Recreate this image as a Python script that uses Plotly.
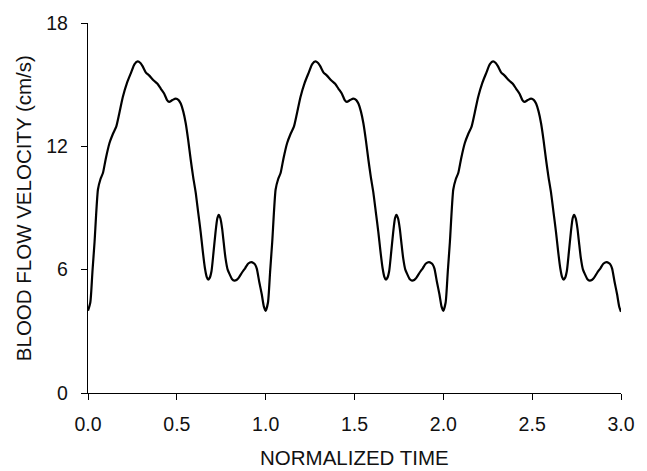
import plotly.graph_objects as go

# One cardiac cycle (normalized time 0..1)
cycle_time = [0.000, 0.013, 0.025, 0.037, 0.056, 0.070, 0.084, 0.100, 0.121, 0.140,
              0.159, 0.176, 0.196, 0.220, 0.243, 0.262, 0.280, 0.295, 0.307, 0.325,
              0.345, 0.370, 0.391, 0.410, 0.429, 0.445, 0.457, 0.475, 0.494, 0.510,
              0.522, 0.536, 0.550, 0.564, 0.578, 0.592, 0.606, 0.620, 0.634, 0.646,
              0.658, 0.668, 0.676, 0.685, 0.695, 0.706, 0.718, 0.728, 0.736, 0.745,
              0.755, 0.764, 0.774, 0.786, 0.798, 0.810, 0.824, 0.836, 0.848, 0.866,
              0.885, 0.902, 0.919, 0.932, 0.941, 0.950, 0.964, 0.978, 0.990]
cycle_velocity = [4.00, 4.40, 5.90, 7.36, 9.90, 10.40, 10.70, 11.40, 12.16, 12.60,
                  12.96, 13.60, 14.40, 15.10, 15.60, 16.00, 16.13, 16.05, 15.90, 15.60,
                  15.44, 15.20, 15.04, 14.80, 14.56, 14.25, 14.16, 14.25, 14.32, 14.25,
                  14.08, 13.70, 13.12, 12.30, 11.36, 10.50, 9.76, 8.80, 7.84, 6.90,
                  6.08, 5.65, 5.52, 5.60, 5.92, 6.80, 7.84, 8.50, 8.67, 8.50,
                  8.00, 7.30, 6.56, 6.00, 5.76, 5.55, 5.47, 5.50, 5.60, 5.85,
                  6.08, 6.30, 6.37, 6.32, 6.24, 6.05, 5.40, 4.80, 4.20]
n_cycles = 3
end_time = 3.0
end_velocity = 3.95

x_ticks = [0.0, 0.5, 1.0, 1.5, 2.0, 2.5, 3.0]
x_ticklabels = ["0.0", "0.5", "1.0", "1.5", "2.0", "2.5", "3.0"]
y_ticks = [0, 6, 12, 18]
x_title = "NORMALIZED TIME"
y_title = "BLOOD FLOW VELOCITY (cm/s)"

time = []
velocity = []
for k in range(n_cycles):
    time += [t + k for t in cycle_time]
    velocity += cycle_velocity
time.append(end_time)
velocity.append(end_velocity)

fig = go.Figure()
fig.add_trace(go.Scatter(x=time, y=velocity, mode="lines",
                         line=dict(color="black", width=2.2, shape="spline", smoothing=0.6),
                         showlegend=False, hoverinfo="skip"))

family = "Liberation Sans, Arial, sans-serif"
tick_font = dict(family=family, size=19.5, color="#111111")
title_font = dict(family=family, size=20.5, color="#111111")

axis_common = dict(showgrid=False, zeroline=False, showline=True, linecolor="black",
                   linewidth=1.3, ticks="outside", ticklen=6, tickwidth=1.3,
                   tickcolor="black", tickfont=tick_font)

fig.update_layout(
    width=647, height=471,
    margin=dict(l=88, r=22, t=19, b=78),
    paper_bgcolor="white", plot_bgcolor="white",
    font=tick_font,
    xaxis=dict(range=[0, 3.0], tickvals=x_ticks, ticktext=x_ticklabels,
               ticklabelstandoff=7, **axis_common),
    yaxis=dict(range=[0, 18], tickvals=y_ticks, ticklabelstandoff=9, **axis_common),
    annotations=[
        dict(text=x_title, xref="paper", yref="paper", x=0.5, y=-0.174,
             xanchor="center", yanchor="middle", showarrow=False, font=title_font),
        dict(text=y_title, xref="paper", yref="paper", x=-0.1216, y=0.5,
             xanchor="center", yanchor="middle", textangle=-90, showarrow=False,
             font=title_font),
    ],
)
fig.write_html("out.html", config={"displayModeBar": False},
               post_script="document.body.style.margin='0';document.body.style.overflow='hidden';")
